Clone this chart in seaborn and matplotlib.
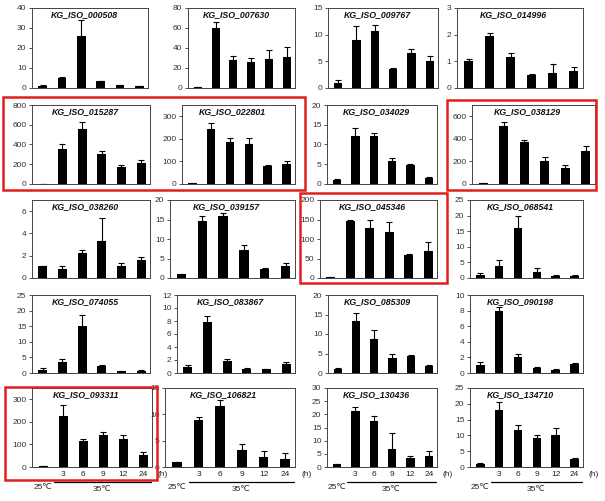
import matplotlib
matplotlib.use("Agg")
import matplotlib.pyplot as plt
import seaborn as sns
import numpy as np
from matplotlib.patches import Rectangle

# ---------------- data ----------------
genes = [
    "KG_ISO_000508", "KG_ISO_007630", "KG_ISO_009767", "KG_ISO_014996",
    "KG_ISO_015287", "KG_ISO_022801", "KG_ISO_034029", "KG_ISO_038129",
    "KG_ISO_038260", "KG_ISO_039157", "KG_ISO_045346", "KG_ISO_068541",
    "KG_ISO_074055", "KG_ISO_083867", "KG_ISO_085309", "KG_ISO_090198",
    "KG_ISO_093311", "KG_ISO_106821", "KG_ISO_130436", "KG_ISO_134710",
]
means = [
    [1.0, 5.2, 26.0, 3.3, 1.5, 0.8],
    [1.0, 60.0, 28.0, 26.0, 29.0, 31.0],
    [1.0, 9.0, 10.6, 3.5, 6.6, 5.0],
    [1.0, 1.95, 1.15, 0.48, 0.57, 0.62],
    [5.0, 350.0, 555.0, 300.0, 170.0, 210.0],
    [3.0, 245.0, 187.0, 177.0, 80.0, 90.0],
    [1.0, 12.2, 12.2, 5.7, 4.7, 1.6],
    [5.0, 510.0, 370.0, 205.0, 145.0, 290.0],
    [1.05, 0.8, 2.2, 3.35, 1.1, 1.65],
    [1.0, 14.5, 15.8, 7.2, 2.3, 3.1],
    [2.0, 147.0, 127.0, 119.0, 58.0, 70.0],
    [1.1, 3.7, 16.0, 2.0, 0.8, 0.6],
    [1.1, 3.5, 15.0, 2.3, 0.7, 0.8],
    [1.0, 7.8, 1.8, 0.65, 0.55, 1.45],
    [0.9, 13.3, 8.8, 3.9, 4.3, 1.9],
    [1.0, 8.0, 2.0, 0.65, 0.4, 1.2],
    [3.0, 228.0, 115.0, 140.0, 125.0, 55.0],
    [1.0, 8.9, 11.6, 3.2, 1.9, 1.6],
    [1.0, 21.3, 17.5, 7.0, 3.5, 4.0],
    [1.1, 18.1, 11.7, 9.1, 10.1, 2.4],
]
errors = [
    [0.3, 0.3, 8.0, 0.2, 0.1, 0.1],
    [0.0, 6.0, 4.0, 4.0, 9.0, 10.0],
    [0.5, 2.6, 1.2, 0.2, 0.8, 1.0],
    [0.08, 0.1, 0.17, 0.05, 0.33, 0.15],
    [0.0, 50.0, 75.0, 35.0, 25.0, 30.0],
    [0.0, 25.0, 17.0, 27.0, 2.0, 10.0],
    [0.2, 2.0, 0.8, 0.8, 0.3, 0.1],
    [0.0, 35.0, 20.0, 30.0, 20.0, 45.0],
    [0.05, 0.3, 0.3, 2.0, 0.25, 0.25],
    [0.0, 1.5, 0.9, 1.3, 0.3, 0.7],
    [0.0, 1.0, 21.0, 25.0, 3.0, 23.0],
    [0.4, 2.2, 4.0, 1.3, 0.1, 0.3],
    [0.4, 1.0, 3.5, 0.4, 0.1, 0.1],
    [0.3, 1.0, 0.35, 0.05, 0.05, 0.25],
    [0.4, 2.0, 2.2, 0.9, 0.3, 0.1],
    [0.45, 0.45, 0.5, 0.15, 0.05, 0.1],
    [0.0, 45.0, 10.0, 17.0, 18.0, 13.0],
    [0.0, 0.5, 1.2, 1.2, 1.2, 1.0],
    [0.1, 1.6, 1.7, 5.8, 0.5, 2.2],
    [0.1, 2.4, 1.5, 0.9, 2.1, 0.4],
]
ymax = [40, 80, 15, 3, 800, 350, 20, 700, 7, 20, 200, 25,
        25, 12, 20, 10, 350, 15, 30, 25]
ystep = [10, 20, 5, 1, 200, 100, 5, 200, 2, 5, 50, 5,
         5, 2, 5, 2, 100, 5, 5, 5]
time_labels = ["", "3", "6", "9", "12", "24"]
timepoints = ["25C", "3h", "6h", "9h", "12h", "24h"]

# ---------------- layout (pixels: left, right, top, bottom) ----------------
W, H = 605, 501
boxes = [
    (32, 148, 8, 88), (188, 295, 8, 88), (328, 438, 8, 88), (457, 583, 8, 88),
    (32, 150, 105, 184), (182, 295, 105, 184), (327, 437, 105, 184), (472, 595, 105, 184),
    (32, 150, 200, 278), (170, 295, 200, 278), (320, 437, 200, 278), (470, 583, 200, 278),
    (32, 150, 295, 373), (177, 295, 295, 373), (328, 437, 295, 373), (470, 583, 295, 373),
    (32, 152, 388, 467), (165, 295, 388, 467), (327, 437, 388, 467), (470, 583, 388, 467),
]
red_boxes = [(3, 305, 97, 190), (447, 596, 100, 190), (300, 447, 193, 283), (5, 157, 387, 480)]

sns.set_theme(style="ticks")
plt.rcParams["font.family"] = ["Liberation Sans", "DejaVu Sans"]

fig = plt.figure(figsize=(W / 100, H / 100), dpi=100)

for i, g in enumerate(genes):
    l, r, t, b = boxes[i]
    ax = fig.add_axes([l / W, 1 - b / H, (r - l) / W, (b - t) / H])
    sns.barplot(x=timepoints, y=means[i], color="black", saturation=1,
                width=0.45, ax=ax, order=timepoints,
                edgecolor="black", linewidth=0)
    x = np.arange(6)
    ax.errorbar(x, means[i], yerr=[np.zeros(6), errors[i]], fmt="none",
                ecolor="black", elinewidth=0.8, capsize=2.2, capthick=0.8)
    ax.set_xlim(-0.55, 5.45)
    ax.set_ylim(0, ymax[i])
    ax.set_yticks(np.arange(0, ymax[i] + 1e-9, ystep[i]))
    ax.set_xlabel("")
    ax.set_ylabel("")
    for s in ax.spines.values():
        s.set_visible(True)
        s.set_linewidth(0.7)
        s.set_color("#444444")
    ax.tick_params(axis="y", labelsize=6, length=2, width=0.6, pad=2,
                   colors="#333333", labelcolor="#333333")
    ax.text(0.45, 0.97, g, transform=ax.transAxes, ha="center", va="top",
            fontsize=6.3, fontweight="bold", fontstyle="italic", color="#111111")
    if i >= 16:
        ax.set_xticks(x)
        ax.set_xticklabels(time_labels)
        ax.tick_params(axis="x", labelsize=6, length=0, pad=3, labelcolor="#222222")
        ax.text(1.05, -0.1, "(h)", transform=ax.transAxes, ha="left", va="center",
                fontsize=6, color="#222222")
        trans = ax.get_xaxis_transform()
        ax.plot([0.55, 5.4], [-0.19, -0.19], transform=trans, color="black",
                lw=0.9, clip_on=False)
        ax.text(0.0, -0.26, "25℃", transform=trans, ha="center", va="center",
                fontsize=6, color="#222222")
        ax.text(2.95, -0.28, "35℃", transform=trans, ha="center", va="center",
                fontsize=6, color="#222222")
    else:
        ax.set_xticks([])

for (l, r, t, b) in red_boxes:
    fig.patches.append(Rectangle((l / W, 1 - b / H), (r - l) / W, (b - t) / H,
                                 transform=fig.transFigure, fill=False,
                                 edgecolor="#e02020", linewidth=1.8))

fig.savefig("out.png", dpi=100)
